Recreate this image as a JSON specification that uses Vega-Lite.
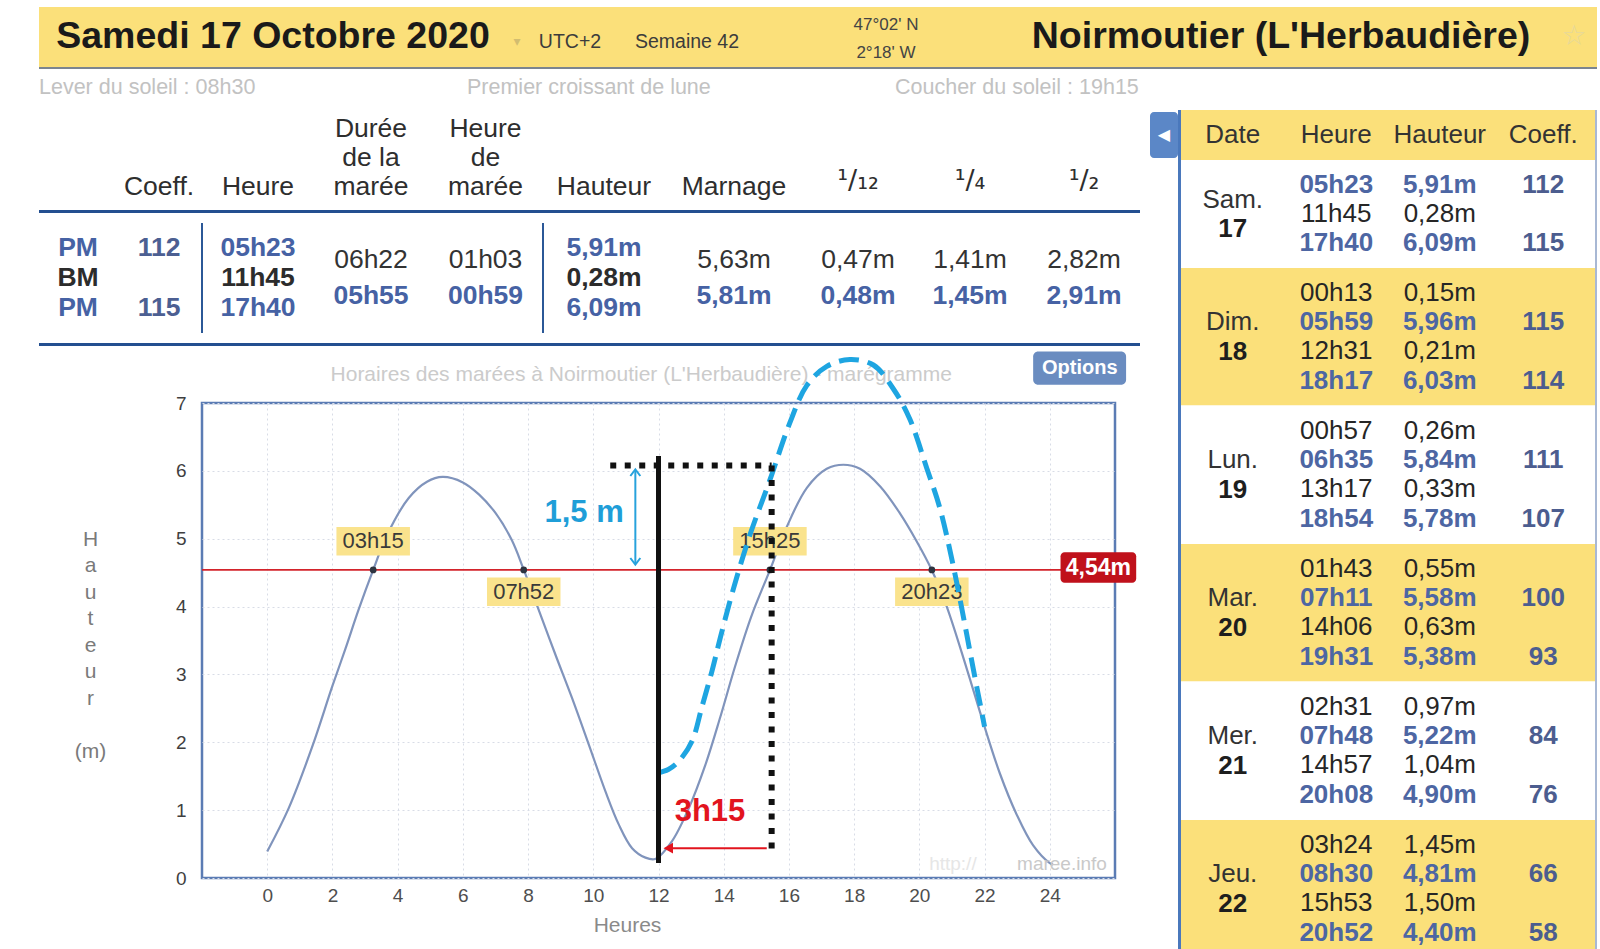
{
"$schema":"https://vega.github.io/schema/vega-lite/v6.json",
"padding":{"left":0,"top":7,"right":0,"bottom":0},
"background":"#ffffff",
"config":{"view":{"stroke":null},"concat":{"spacing":0},"text":{"font":"Liberation Sans"},"axis":{"labelFont":"Liberation Sans","titleFont":"Liberation Sans"},"title":{"font":"Liberation Sans"}},
"datasets":{
"tide":[{"h":0,"m":0.39},{"h":0.66,"m":1.03},{"h":1.37,"m":1.92},{"h":2.0,"m":2.83},{"h":2.4,"m":3.38},{"h":2.8,"m":3.95},{"h":3.25,"m":4.54},{"h":3.67,"m":5.05},{"h":4.34,"m":5.6},{"h":4.9,"m":5.84},{"h":5.38,"m":5.91},{"h":6.0,"m":5.83},{"h":6.5,"m":5.65},{"h":7.0,"m":5.38},{"h":7.5,"m":4.98},{"h":7.87,"m":4.54},{"h":8.32,"m":3.96},{"h":8.84,"m":3.29},{"h":9.35,"m":2.65},{"h":9.86,"m":1.97},{"h":10.37,"m":1.28},{"h":10.78,"m":0.79},{"h":11.19,"m":0.44},{"h":11.6,"m":0.3},{"h":11.9,"m":0.28},{"h":12.41,"m":0.54},{"h":12.93,"m":1.03},{"h":13.44,"m":1.67},{"h":13.9,"m":2.38},{"h":14.35,"m":3.12},{"h":14.85,"m":3.86},{"h":15.42,"m":4.54},{"h":15.93,"m":5.17},{"h":16.55,"m":5.75},{"h":17.16,"m":6.03},{"h":17.67,"m":6.09},{"h":18.18,"m":6.03},{"h":18.8,"m":5.77},{"h":19.41,"m":5.37},{"h":19.92,"m":4.96},{"h":20.38,"m":4.54},{"h":20.84,"m":4.0},{"h":21.45,"m":3.09},{"h":21.96,"m":2.29},{"h":22.47,"m":1.54},{"h":22.98,"m":0.94},{"h":23.49,"m":0.48},{"h":24.0,"m":0.22},{"h":24.1,"m":0.2}],
"dash":[{"h":11.98,"m":1.55},{"h":12.3,"m":1.6},{"h":12.62,"m":1.72},{"h":13.03,"m":2.02},{"h":13.33,"m":2.52},{"h":13.64,"m":3.05},{"h":13.9,"m":3.55},{"h":14.29,"m":4.25},{"h":14.8,"m":5.05},{"h":15.42,"m":5.87},{"h":16.03,"m":6.71},{"h":16.55,"m":7.26},{"h":17.16,"m":7.54},{"h":17.87,"m":7.64},{"h":18.59,"m":7.56},{"h":19.2,"m":7.21},{"h":19.71,"m":6.76},{"h":20.22,"m":6.05},{"h":20.63,"m":5.45},{"h":21.04,"m":4.6},{"h":21.35,"m":3.85},{"h":21.65,"m":3.09},{"h":22.0,"m":2.23}],
"cross":[{"t":"03h15","h":3.25,"side":"above"},{"t":"07h52","h":7.867,"side":"below"},{"t":"15h25","h":15.417,"side":"above"},{"t":"20h23","h":20.383,"side":"below"}],
"summ3":[{"r":1,"type":"PM","coeff":"112","heure":"05h23","haut":"5,91m"},{"r":2,"type":"BM","coeff":"","heure":"11h45","haut":"0,28m"},{"r":3,"type":"PM","coeff":"115","heure":"17h40","haut":"6,09m"}],
"summ2":[{"r":1,"phase":"descente","duree":"06h22","hdm":"01h03","marnage":"5,63m","q12":"0,47m","q4":"1,41m","q2":"2,82m"},{"r":2,"phase":"montée","duree":"05h55","hdm":"00h59","marnage":"5,81m","q12":"0,48m","q4":"1,45m","q2":"2,91m"}],
"tides":[
{"d":"Sam.","n":"17","i":0,"t":"PM","heure":"05h23","haut":"5,91m","c":"112"},
{"d":"Sam.","n":"17","i":1,"t":"BM","heure":"11h45","haut":"0,28m","c":""},
{"d":"Sam.","n":"17","i":2,"t":"PM","heure":"17h40","haut":"6,09m","c":"115"},
{"d":"Dim.","n":"18","i":0,"t":"BM","heure":"00h13","haut":"0,15m","c":""},
{"d":"Dim.","n":"18","i":1,"t":"PM","heure":"05h59","haut":"5,96m","c":"115"},
{"d":"Dim.","n":"18","i":2,"t":"BM","heure":"12h31","haut":"0,21m","c":""},
{"d":"Dim.","n":"18","i":3,"t":"PM","heure":"18h17","haut":"6,03m","c":"114"},
{"d":"Lun.","n":"19","i":0,"t":"BM","heure":"00h57","haut":"0,26m","c":""},
{"d":"Lun.","n":"19","i":1,"t":"PM","heure":"06h35","haut":"5,84m","c":"111"},
{"d":"Lun.","n":"19","i":2,"t":"BM","heure":"13h17","haut":"0,33m","c":""},
{"d":"Lun.","n":"19","i":3,"t":"PM","heure":"18h54","haut":"5,78m","c":"107"},
{"d":"Mar.","n":"20","i":0,"t":"BM","heure":"01h43","haut":"0,55m","c":""},
{"d":"Mar.","n":"20","i":1,"t":"PM","heure":"07h11","haut":"5,58m","c":"100"},
{"d":"Mar.","n":"20","i":2,"t":"BM","heure":"14h06","haut":"0,63m","c":""},
{"d":"Mar.","n":"20","i":3,"t":"PM","heure":"19h31","haut":"5,38m","c":"93"},
{"d":"Mer.","n":"21","i":0,"t":"BM","heure":"02h31","haut":"0,97m","c":""},
{"d":"Mer.","n":"21","i":1,"t":"PM","heure":"07h48","haut":"5,22m","c":"84"},
{"d":"Mer.","n":"21","i":2,"t":"BM","heure":"14h57","haut":"1,04m","c":""},
{"d":"Mer.","n":"21","i":3,"t":"PM","heure":"20h08","haut":"4,90m","c":"76"},
{"d":"Jeu.","n":"22","i":0,"t":"BM","heure":"03h24","haut":"1,45m","c":""},
{"d":"Jeu.","n":"22","i":1,"t":"PM","heure":"08h30","haut":"4,81m","c":"66"},
{"d":"Jeu.","n":"22","i":2,"t":"BM","heure":"15h53","haut":"1,50m","c":""},
{"d":"Jeu.","n":"22","i":3,"t":"PM","heure":"20h52","haut":"4,40m","c":"58"}
]
},
"spacing":0,
"vconcat":[
{"spacing":0,"hconcat":[
 {"width":39,"height":103,"data":{"values":[]},"mark":"point"},
 {"spacing":0,"vconcat":[
  {"spacing":0,"hconcat":[
   {"width":468,"height":60,"view":{"fill":"#fbe07a"},"data":{"values":[{}]},"mark":{"type":"text","text":"Samedi 17 Octobre 2020","fontSize":37.5,"fontWeight":"bold","color":"#1a1a1a"}},
   {"width":20,"height":60,"view":{"fill":"#fbe07a"},"data":{"values":[{}]},"mark":{"type":"text","text":"▾","font":"DejaVu Sans","fontSize":14,"dy":5,"color":"#d2bd70"}},
   {"width":86,"height":60,"view":{"fill":"#fbe07a"},"data":{"values":[{}]},"mark":{"type":"text","text":"UTC+2","fontSize":19.5,"dy":5,"color":"#3c3c3c"}},
   {"width":148,"height":60,"view":{"fill":"#fbe07a"},"data":{"values":[{}]},"mark":{"type":"text","text":"Semaine 42","fontSize":19.5,"dy":5,"color":"#3c3c3c"}},
   {"width":250,"height":60,"view":{"fill":"#fbe07a"},"data":{"values":[{}]},"mark":{"type":"text","text":"47°02' N\n2°18' W","lineBreak":"\n","lineHeight":28.5,"dy":-12.5,"fontSize":17,"color":"#444444"}},
   {"width":540,"height":60,"view":{"fill":"#fbe07a"},"data":{"values":[{}]},"mark":{"type":"text","text":"Noirmoutier (L'Herbaudière)","fontSize":37.5,"fontWeight":"bold","color":"#1a1a1a"}},
   {"width":46,"height":60,"view":{"fill":"#fbe07a"},"data":{"values":[{}]},"mark":{"type":"text","text":"☆","font":"DejaVu Sans","fontSize":28,"color":"#e6d89a"}}
  ]},
  {"width":1558,"height":2,"view":{"fill":"#7b858f"},"data":{"values":[]},"mark":"point"},
  {"width":1284,"height":41,"data":{"values":[{"k":"a","t":"Lever du soleil : 08h30"},{"k":"b","t":"Premier croissant de lune"},{"k":"c","t":"Coucher du soleil : 19h15"}]},"mark":{"type":"text","align":"left","fontSize":21.5,"dy":-2,"color":"#c2c2c2"},"encoding":{"x":{"field":"k","type":"nominal","bandPosition":0,"scale":{"type":"band","paddingInner":0,"paddingOuter":0},"axis":null},"text":{"field":"t"}}}
 ]}
]},
{"spacing":0,"hconcat":[
 {"width":39,"height":1,"data":{"values":[]},"mark":"point"},
 {"spacing":0,"vconcat":[
  {"spacing":0,"vconcat":[
   {"spacing":0,"hconcat":[
    {"width":78,"height":90,"data":{"values":[]},"mark":"point"},
    {"width":84,"height":90,"data":{"values":[{"l":3,"t":"Coeff."}]},"mark":{"type":"text","fontSize":26.5,"dy":3,"color":"#2e2e2e"},"encoding":{"y":{"field":"l","type":"ordinal","scale":{"type":"point","padding":0.536,"domain":[1,2,3]},"axis":null},"text":{"field":"t"}}},
    {"width":2,"height":90,"data":{"values":[]},"mark":"point"},
    {"width":110,"height":90,"data":{"values":[{"l":3,"t":"Heure"}]},"mark":{"type":"text","fontSize":26.5,"dy":3,"color":"#2e2e2e"},"encoding":{"y":{"field":"l","type":"ordinal","scale":{"type":"point","padding":0.536,"domain":[1,2,3]},"axis":null},"text":{"field":"t"}}},
    {"width":116,"height":90,"data":{"values":[{"l":1,"t":"Durée"},{"l":2,"t":"de la"},{"l":3,"t":"marée"}]},"mark":{"type":"text","fontSize":26.5,"dy":3,"color":"#2e2e2e"},"encoding":{"y":{"field":"l","type":"ordinal","scale":{"type":"point","padding":0.536,"domain":[1,2,3]},"axis":null},"text":{"field":"t"}}},
    {"width":113,"height":90,"data":{"values":[{"l":1,"t":"Heure"},{"l":2,"t":"de"},{"l":3,"t":"marée"}]},"mark":{"type":"text","fontSize":26.5,"dy":3,"color":"#2e2e2e"},"encoding":{"y":{"field":"l","type":"ordinal","scale":{"type":"point","padding":0.536,"domain":[1,2,3]},"axis":null},"text":{"field":"t"}}},
    {"width":2,"height":90,"data":{"values":[]},"mark":"point"},
    {"width":120,"height":90,"data":{"values":[{"l":3,"t":"Hauteur"}]},"mark":{"type":"text","fontSize":26.5,"dy":3,"color":"#2e2e2e"},"encoding":{"y":{"field":"l","type":"ordinal","scale":{"type":"point","padding":0.536,"domain":[1,2,3]},"axis":null},"text":{"field":"t"}}},
    {"width":140,"height":90,"data":{"values":[{"l":3,"t":"Marnage"}]},"mark":{"type":"text","fontSize":26.5,"dy":3,"color":"#2e2e2e"},"encoding":{"y":{"field":"l","type":"ordinal","scale":{"type":"point","padding":0.536,"domain":[1,2,3]},"axis":null},"text":{"field":"t"}}},
    {"width":108,"height":90,"data":{"values":[{"l":3,"t":"¹/₁₂"}]},"mark":{"type":"text","font":"DejaVu Sans","fontSize":27,"dy":-3,"color":"#2e2e2e"},"encoding":{"y":{"field":"l","type":"ordinal","scale":{"type":"point","padding":0.536,"domain":[1,2,3]},"axis":null},"text":{"field":"t"}}},
    {"width":116,"height":90,"data":{"values":[{"l":3,"t":"¹/₄"}]},"mark":{"type":"text","font":"DejaVu Sans","fontSize":27,"dy":-3,"color":"#2e2e2e"},"encoding":{"y":{"field":"l","type":"ordinal","scale":{"type":"point","padding":0.536,"domain":[1,2,3]},"axis":null},"text":{"field":"t"}}},
    {"width":112,"height":90,"data":{"values":[{"l":3,"t":"¹/₂"}]},"mark":{"type":"text","font":"DejaVu Sans","fontSize":27,"dy":-3,"color":"#2e2e2e"},"encoding":{"y":{"field":"l","type":"ordinal","scale":{"type":"point","padding":0.536,"domain":[1,2,3]},"axis":null},"text":{"field":"t"}}}
   ]},
   {"width":1101,"height":9,"data":{"values":[]},"mark":"point"},
   {"width":1101,"height":3,"view":{"fill":"#234f90"},"data":{"values":[]},"mark":"point"},
   {"width":1101,"height":10,"data":{"values":[]},"mark":"point"},
   {"spacing":0,"hconcat":[
    {"width":78,"height":110,"data":{"name":"summ3"},"mark":{"type":"text","fontSize":26.5,"fontWeight":"bold"},"encoding":{"y":{"field":"r","type":"ordinal","scale":{"type":"point","padding":0.864,"domain":[1,2,3]},"axis":null},"text":{"field":"type"},"color":{"field":"type","type":"nominal","scale":{"domain":["PM","BM"],"range":["#4662a4","#2c2c2c"]},"legend":null}}},
    {"width":84,"height":110,"data":{"name":"summ3"},"mark":{"type":"text","fontSize":26.5,"fontWeight":"bold","color":"#4c5f92"},"encoding":{"y":{"field":"r","type":"ordinal","scale":{"type":"point","padding":0.864,"domain":[1,2,3]},"axis":null},"text":{"field":"coeff"}}},
    {"width":2,"height":110,"view":{"fill":"#2b5897"},"data":{"values":[]},"mark":"point"},
    {"width":110,"height":110,"data":{"name":"summ3"},"mark":{"type":"text","fontSize":26.5,"fontWeight":"bold"},"encoding":{"y":{"field":"r","type":"ordinal","scale":{"type":"point","padding":0.864,"domain":[1,2,3]},"axis":null},"text":{"field":"heure"},"color":{"field":"type","type":"nominal","scale":{"domain":["PM","BM"],"range":["#4662a4","#2c2c2c"]},"legend":null}}},
    {"width":116,"height":110,"data":{"name":"summ2"},"layer":[
     {"transform":[{"filter":"datum.phase == 'descente'"}],"mark":{"type":"text","fontSize":26.5,"color":"#333333"},"encoding":{"y":{"field":"r","type":"ordinal","scale":{"type":"point","padding":1.333,"domain":[1,2]},"axis":null},"text":{"field":"duree"}}},
     {"transform":[{"filter":"datum.phase == 'montée'"}],"mark":{"type":"text","fontSize":26.5,"fontWeight":"bold","color":"#4662a4"},"encoding":{"y":{"field":"r","type":"ordinal","axis":null},"text":{"field":"duree"}}}
    ]},
    {"width":113,"height":110,"data":{"name":"summ2"},"layer":[
     {"transform":[{"filter":"datum.phase == 'descente'"}],"mark":{"type":"text","fontSize":26.5,"color":"#333333"},"encoding":{"y":{"field":"r","type":"ordinal","scale":{"type":"point","padding":1.333,"domain":[1,2]},"axis":null},"text":{"field":"hdm"}}},
     {"transform":[{"filter":"datum.phase == 'montée'"}],"mark":{"type":"text","fontSize":26.5,"fontWeight":"bold","color":"#4662a4"},"encoding":{"y":{"field":"r","type":"ordinal","axis":null},"text":{"field":"hdm"}}}
    ]},
    {"width":2,"height":110,"view":{"fill":"#2b5897"},"data":{"values":[]},"mark":"point"},
    {"width":120,"height":110,"data":{"name":"summ3"},"mark":{"type":"text","fontSize":26.5,"fontWeight":"bold"},"encoding":{"y":{"field":"r","type":"ordinal","scale":{"type":"point","padding":0.864,"domain":[1,2,3]},"axis":null},"text":{"field":"haut"},"color":{"field":"type","type":"nominal","scale":{"domain":["PM","BM"],"range":["#4662a4","#2c2c2c"]},"legend":null}}},
    {"width":140,"height":110,"data":{"name":"summ2"},"layer":[
     {"transform":[{"filter":"datum.phase == 'descente'"}],"mark":{"type":"text","fontSize":26.5,"color":"#333333"},"encoding":{"y":{"field":"r","type":"ordinal","scale":{"type":"point","padding":1.333,"domain":[1,2]},"axis":null},"text":{"field":"marnage"}}},
     {"transform":[{"filter":"datum.phase == 'montée'"}],"mark":{"type":"text","fontSize":26.5,"fontWeight":"bold","color":"#4662a4"},"encoding":{"y":{"field":"r","type":"ordinal","axis":null},"text":{"field":"marnage"}}}
    ]},
    {"width":108,"height":110,"data":{"name":"summ2"},"layer":[
     {"transform":[{"filter":"datum.phase == 'descente'"}],"mark":{"type":"text","fontSize":26.5,"color":"#333333"},"encoding":{"y":{"field":"r","type":"ordinal","scale":{"type":"point","padding":1.333,"domain":[1,2]},"axis":null},"text":{"field":"q12"}}},
     {"transform":[{"filter":"datum.phase == 'montée'"}],"mark":{"type":"text","fontSize":26.5,"fontWeight":"bold","color":"#4662a4"},"encoding":{"y":{"field":"r","type":"ordinal","axis":null},"text":{"field":"q12"}}}
    ]},
    {"width":116,"height":110,"data":{"name":"summ2"},"layer":[
     {"transform":[{"filter":"datum.phase == 'descente'"}],"mark":{"type":"text","fontSize":26.5,"color":"#333333"},"encoding":{"y":{"field":"r","type":"ordinal","scale":{"type":"point","padding":1.333,"domain":[1,2]},"axis":null},"text":{"field":"q4"}}},
     {"transform":[{"filter":"datum.phase == 'montée'"}],"mark":{"type":"text","fontSize":26.5,"fontWeight":"bold","color":"#4662a4"},"encoding":{"y":{"field":"r","type":"ordinal","axis":null},"text":{"field":"q4"}}}
    ]},
    {"width":112,"height":110,"data":{"name":"summ2"},"layer":[
     {"transform":[{"filter":"datum.phase == 'descente'"}],"mark":{"type":"text","fontSize":26.5,"color":"#333333"},"encoding":{"y":{"field":"r","type":"ordinal","scale":{"type":"point","padding":1.333,"domain":[1,2]},"axis":null},"text":{"field":"q2"}}},
     {"transform":[{"filter":"datum.phase == 'montée'"}],"mark":{"type":"text","fontSize":26.5,"fontWeight":"bold","color":"#4662a4"},"encoding":{"y":{"field":"r","type":"ordinal","axis":null},"text":{"field":"q2"}}}
    ]}
   ]},
   {"width":1101,"height":10,"data":{"values":[]},"mark":"point"},
   {"width":1101,"height":3,"view":{"fill":"#234f90"},"data":{"values":[]},"mark":"point"},
   {"width":1101,"height":2,"data":{"values":[]},"mark":"point"}
  ]},
  {"bounds":"flush","spacing":0,"hconcat":[
   {"width":163,"height":475,"data":{"values":[]},"mark":"point"},
   {"width":913,"height":475,
    "view":{"stroke":"#5b7cb4","strokeWidth":2.5,"fill":"#ffffff"},
    "layer":[
     {"data":{"name":"tide"},"mark":{"type":"line","interpolate":"catmull-rom","color":"#8094bc","strokeWidth":2.2},
      "encoding":{
       "x":{"field":"h","type":"quantitative","scale":{"domain":[-2,26],"nice":false,"zero":false},
        "axis":{"values":[0,2,4,6,8,10,12,14,16,18,20,22,24],"format":"d","title":"Heures","grid":true,"gridColor":"#d8dce6","gridDash":[2,3],"domain":false,"ticks":false,"labelPadding":8,"labelFontSize":19,"labelColor":"#4e4e4e","labelFlush":false,"titleFontSize":21,"titleFontWeight":"normal","titleColor":"#8a8a8a","titlePadding":9,"titleX":425}},
       "y":{"field":"m","type":"quantitative","scale":{"domain":[0,7],"nice":false,"zero":false},
        "axis":{"values":[0,1,2,3,4,5,6,7],"format":"d","title":["H","a","u","t","e","u","r","\u200b","(m)"],"grid":true,"gridColor":"#d8dce6","gridDash":[2,3],"domain":false,"ticks":false,"labelPadding":16,"labelFontSize":19,"labelColor":"#3f3f3f","titleAngle":0,"titleAlign":"center","titleBaseline":"middle","titleX":-112,"titleY":136,"titleLineHeight":26.5,"titleFontSize":21,"titleFontWeight":"normal","titleColor":"#7a7a7a"}}}},
     {"data":{"values":[{}]},"mark":{"type":"text","text":"Horaires des marées à Noirmoutier (L'Herbaudière) - marégramme","fontSize":21,"color":"#cbcbcb"},"encoding":{"x":{"datum":11.47},"y":{"datum":7.42}}},
     {"data":{"values":[{}]},"mark":{"type":"rule","color":"#d3232b","strokeWidth":1.8},"encoding":{"y":{"datum":4.54}}},
     {"data":{"name":"cross"},"transform":[{"filter":"datum.side=='above'"}],"mark":{"type":"point","shape":"M-3.675,-4.29L3.675,-4.29L3.675,-1.44L-3.675,-1.44Z","size":400,"filled":true,"fill":"#fae38d","opacity":1,"strokeWidth":0},"encoding":{"x":{"field":"h","type":"quantitative"},"y":{"datum":4.54}}},
     {"data":{"name":"cross"},"transform":[{"filter":"datum.side=='below'"}],"mark":{"type":"point","shape":"M-3.675,0.76L3.675,0.76L3.675,3.61L-3.675,3.61Z","size":400,"filled":true,"fill":"#fae38d","opacity":1,"strokeWidth":0},"encoding":{"x":{"field":"h","type":"quantitative"},"y":{"datum":4.54}}},
     {"data":{"name":"cross"},"transform":[{"filter":"datum.side=='above'"}],"mark":{"type":"text","dy":-28.6,"fontSize":22,"color":"#3a3a3a"},"encoding":{"x":{"field":"h","type":"quantitative"},"y":{"datum":4.54},"text":{"field":"t"}}},
     {"data":{"name":"cross"},"transform":[{"filter":"datum.side=='below'"}],"mark":{"type":"text","dy":21.8,"fontSize":22,"color":"#3a3a3a"},"encoding":{"x":{"field":"h","type":"quantitative"},"y":{"datum":4.54},"text":{"field":"t"}}},
     {"data":{"name":"cross"},"mark":{"type":"point","filled":true,"size":45,"color":"#2e3440","opacity":1},"encoding":{"x":{"field":"h","type":"quantitative"},"y":{"datum":4.54}}},
     {"data":{"values":[{}]},"mark":{"type":"rect","color":"#c0111b","cornerRadius":4},"encoding":{"x":{"datum":24.33},"x2":{"datum":26.65},"y":{"datum":4.35},"y2":{"datum":4.8}}},
     {"data":{"values":[{}]},"mark":{"type":"text","text":"4,54m","color":"#ffffff","fontSize":23,"fontWeight":"bold"},"encoding":{"x":{"datum":25.49},"y":{"datum":4.575}}},
     {"data":{"values":[{}]},"mark":{"type":"rect","color":"#6a8cc0","cornerRadius":5},"encoding":{"x":{"datum":23.49},"x2":{"datum":26.34},"y":{"datum":7.27},"y2":{"datum":7.76}}},
     {"data":{"values":[{}]},"mark":{"type":"text","text":"Options","color":"#ffffff","fontSize":20,"fontWeight":"bold"},"encoding":{"x":{"datum":24.92},"y":{"datum":7.515}}},
     {"data":{"values":[{}]},"mark":{"type":"text","text":"1,5 m","color":"#1f9ed8","fontSize":31,"fontWeight":"bold"},"encoding":{"x":{"datum":9.72},"y":{"datum":5.38}}},
     {"data":{"values":[{}]},"mark":{"type":"rule","color":"#27a2dc","strokeWidth":2},"encoding":{"x":{"datum":11.29},"y":{"datum":4.64},"y2":{"datum":6.0}}},
     {"data":{"values":[{}]},"mark":{"type":"point","shape":"M-1,1.3L0,0L1,1.3","size":100,"filled":false,"color":"#27a2dc","strokeWidth":2,"opacity":1},"encoding":{"x":{"datum":11.29},"y":{"datum":6.02}}},
     {"data":{"values":[{}]},"mark":{"type":"point","shape":"M-1,-1.3L0,0L1,-1.3","size":100,"filled":false,"color":"#27a2dc","strokeWidth":2,"opacity":1},"encoding":{"x":{"datum":11.29},"y":{"datum":4.62}}},
     {"data":{"name":"dash"},"mark":{"type":"line","interpolate":"catmull-rom","color":"#1ea5e1","strokeWidth":5,"strokeDash":[20,9]},"encoding":{"x":{"field":"h","type":"quantitative"},"y":{"field":"m","type":"quantitative"}}},
     {"data":{"values":[{}]},"mark":{"type":"rule","color":"#111111","strokeWidth":6,"strokeDash":[6,8.5]},"encoding":{"x":{"datum":10.52},"x2":{"datum":15.47},"y":{"datum":6.08}}},
     {"data":{"values":[{}]},"mark":{"type":"rule","color":"#111111","strokeWidth":6,"strokeDash":[6,8.5]},"encoding":{"x":{"datum":15.47},"y":{"datum":6.08},"y2":{"datum":0.31}}},
     {"data":{"values":[{}]},"mark":{"type":"rule","color":"#111111","strokeWidth":5},"encoding":{"x":{"datum":12},"y":{"datum":0.22},"y2":{"datum":6.22}}},
     {"data":{"values":[{}]},"mark":{"type":"rule","color":"#e2141e","strokeWidth":2},"encoding":{"x":{"datum":12.3},"x2":{"datum":15.32},"y":{"datum":0.44}}},
     {"data":{"values":[{}]},"mark":{"type":"point","shape":"triangle-left","size":120,"filled":true,"color":"#e2141e","opacity":1},"encoding":{"x":{"datum":12.3},"y":{"datum":0.44}}},
     {"data":{"values":[{}]},"mark":{"type":"text","text":"3h15","color":"#e2141e","fontSize":31,"fontWeight":"bold"},"encoding":{"x":{"datum":13.58},"y":{"datum":0.98}}},
     {"data":{"values":[{}]},"mark":{"type":"text","text":"http://","align":"left","color":"#e6e6e6","fontSize":19},"encoding":{"x":{"datum":20.3},"y":{"datum":0.21}}},
     {"data":{"values":[{}]},"mark":{"type":"text","text":"maree.info","align":"right","color":"#c9c9c9","fontSize":19},"encoding":{"x":{"datum":25.75},"y":{"datum":0.21}}}
    ]}
  ]}
 ]},
 {"width":10,"height":1,"data":{"values":[]},"mark":"point"},
 {"spacing":0,"vconcat":[
  {"width":28,"height":2,"data":{"values":[]},"mark":"point"},
  {"width":28,"height":46,"view":{"fill":"#5b87c7","cornerRadius":4},"data":{"values":[{}]},"mark":{"type":"text","text":"◀","font":"DejaVu Sans","fontSize":16,"color":"#ffffff"}}
 ]},
 {"width":3,"height":844,"view":{"fill":"#4a78bc"},"data":{"values":[]},"mark":"point"},
 {"spacing":0,"vconcat":[
  {"width":414,"height":50,"view":{"fill":"#fbe07a"},"data":{"values":[{"c":"Date"},{"c":"Heure"},{"c":"Hauteur"},{"c":"Coeff."}]},"mark":{"type":"text","fontSize":26,"color":"#333333"},"encoding":{"x":{"field":"c","type":"nominal","scale":{"type":"band","domain":["Date","Heure","Hauteur","Coeff."],"paddingInner":0,"paddingOuter":0},"axis":null},"text":{"field":"c"}}},
  {"width":414,"height":108,"view":{"fill":"#ffffff"},"data":{"name":"tides"},"transform":[{"filter":"datum.d=='Sam.'"}],"layer":[
   {"transform":[{"filter":"datum.t=='PM'"}],"mark":{"type":"text","fontSize":26,"fontWeight":"bold","color":"#4d66a3"},"encoding":{"x":{"datum":"Heure","type":"nominal","scale":{"type":"band","domain":["Date","Heure","Hauteur","Coeff."],"paddingInner":0,"paddingOuter":0},"axis":null},"y":{"field":"i","type":"ordinal","scale":{"type":"point","padding":0.84,"domain":[0,1,2]},"axis":null},"text":{"field":"heure"}}},
   {"transform":[{"filter":"datum.t=='BM'"}],"mark":{"type":"text","fontSize":26,"color":"#262626"},"encoding":{"x":{"datum":"Heure","type":"nominal","axis":null},"y":{"field":"i","type":"ordinal","axis":null},"text":{"field":"heure"}}},
   {"transform":[{"filter":"datum.t=='PM'"}],"mark":{"type":"text","fontSize":26,"fontWeight":"bold","color":"#4d66a3"},"encoding":{"x":{"datum":"Hauteur","type":"nominal","axis":null},"y":{"field":"i","type":"ordinal","axis":null},"text":{"field":"haut"}}},
   {"transform":[{"filter":"datum.t=='BM'"}],"mark":{"type":"text","fontSize":26,"color":"#262626"},"encoding":{"x":{"datum":"Hauteur","type":"nominal","axis":null},"y":{"field":"i","type":"ordinal","axis":null},"text":{"field":"haut"}}},
   {"transform":[{"filter":"datum.t=='PM'"}],"mark":{"type":"text","fontSize":26,"fontWeight":"bold","color":"#4c5d8f"},"encoding":{"x":{"datum":"Coeff.","type":"nominal","axis":null},"y":{"field":"i","type":"ordinal","axis":null},"text":{"field":"c"}}},
   {"transform":[{"filter":"datum.i==0"}],"mark":{"type":"text","fontSize":26,"dy":-14.5,"color":"#333333"},"encoding":{"x":{"datum":"Date","type":"nominal","axis":null},"text":{"field":"d"}}},
   {"transform":[{"filter":"datum.i==0"}],"mark":{"type":"text","fontSize":26,"fontWeight":"bold","dy":15,"color":"#1e1e1e"},"encoding":{"x":{"datum":"Date","type":"nominal","axis":null},"text":{"field":"n"}}}
  ]},
  {"width":414,"height":137.3,"view":{"fill":"#fbe07a"},"data":{"name":"tides"},"transform":[{"filter":"datum.d=='Dim.'"}],"layer":[
   {"transform":[{"filter":"datum.t=='PM'"}],"mark":{"type":"text","fontSize":26,"fontWeight":"bold","color":"#4d66a3"},"encoding":{"x":{"datum":"Heure","type":"nominal","scale":{"type":"band","domain":["Date","Heure","Hauteur","Coeff."],"paddingInner":0,"paddingOuter":0},"axis":null},"y":{"field":"i","type":"ordinal","scale":{"type":"point","padding":0.84,"domain":[0,1,2,3]},"axis":null},"text":{"field":"heure"}}},
   {"transform":[{"filter":"datum.t=='BM'"}],"mark":{"type":"text","fontSize":26,"color":"#262626"},"encoding":{"x":{"datum":"Heure","type":"nominal","axis":null},"y":{"field":"i","type":"ordinal","axis":null},"text":{"field":"heure"}}},
   {"transform":[{"filter":"datum.t=='PM'"}],"mark":{"type":"text","fontSize":26,"fontWeight":"bold","color":"#4d66a3"},"encoding":{"x":{"datum":"Hauteur","type":"nominal","axis":null},"y":{"field":"i","type":"ordinal","axis":null},"text":{"field":"haut"}}},
   {"transform":[{"filter":"datum.t=='BM'"}],"mark":{"type":"text","fontSize":26,"color":"#262626"},"encoding":{"x":{"datum":"Hauteur","type":"nominal","axis":null},"y":{"field":"i","type":"ordinal","axis":null},"text":{"field":"haut"}}},
   {"transform":[{"filter":"datum.t=='PM'"}],"mark":{"type":"text","fontSize":26,"fontWeight":"bold","color":"#4c5d8f"},"encoding":{"x":{"datum":"Coeff.","type":"nominal","axis":null},"y":{"field":"i","type":"ordinal","axis":null},"text":{"field":"c"}}},
   {"transform":[{"filter":"datum.i==0"}],"mark":{"type":"text","fontSize":26,"dy":-14.5,"color":"#333333"},"encoding":{"x":{"datum":"Date","type":"nominal","axis":null},"text":{"field":"d"}}},
   {"transform":[{"filter":"datum.i==0"}],"mark":{"type":"text","fontSize":26,"fontWeight":"bold","dy":15,"color":"#1e1e1e"},"encoding":{"x":{"datum":"Date","type":"nominal","axis":null},"text":{"field":"n"}}}
  ]},
  {"width":414,"height":137.3,"view":{"fill":"#ffffff"},"data":{"name":"tides"},"transform":[{"filter":"datum.d=='Lun.'"}],"layer":[
   {"transform":[{"filter":"datum.t=='PM'"}],"mark":{"type":"text","fontSize":26,"fontWeight":"bold","color":"#4d66a3"},"encoding":{"x":{"datum":"Heure","type":"nominal","scale":{"type":"band","domain":["Date","Heure","Hauteur","Coeff."],"paddingInner":0,"paddingOuter":0},"axis":null},"y":{"field":"i","type":"ordinal","scale":{"type":"point","padding":0.84,"domain":[0,1,2,3]},"axis":null},"text":{"field":"heure"}}},
   {"transform":[{"filter":"datum.t=='BM'"}],"mark":{"type":"text","fontSize":26,"color":"#262626"},"encoding":{"x":{"datum":"Heure","type":"nominal","axis":null},"y":{"field":"i","type":"ordinal","axis":null},"text":{"field":"heure"}}},
   {"transform":[{"filter":"datum.t=='PM'"}],"mark":{"type":"text","fontSize":26,"fontWeight":"bold","color":"#4d66a3"},"encoding":{"x":{"datum":"Hauteur","type":"nominal","axis":null},"y":{"field":"i","type":"ordinal","axis":null},"text":{"field":"haut"}}},
   {"transform":[{"filter":"datum.t=='BM'"}],"mark":{"type":"text","fontSize":26,"color":"#262626"},"encoding":{"x":{"datum":"Hauteur","type":"nominal","axis":null},"y":{"field":"i","type":"ordinal","axis":null},"text":{"field":"haut"}}},
   {"transform":[{"filter":"datum.t=='PM'"}],"mark":{"type":"text","fontSize":26,"fontWeight":"bold","color":"#4c5d8f"},"encoding":{"x":{"datum":"Coeff.","type":"nominal","axis":null},"y":{"field":"i","type":"ordinal","axis":null},"text":{"field":"c"}}},
   {"transform":[{"filter":"datum.i==0"}],"mark":{"type":"text","fontSize":26,"dy":-14.5,"color":"#333333"},"encoding":{"x":{"datum":"Date","type":"nominal","axis":null},"text":{"field":"d"}}},
   {"transform":[{"filter":"datum.i==0"}],"mark":{"type":"text","fontSize":26,"fontWeight":"bold","dy":15,"color":"#1e1e1e"},"encoding":{"x":{"datum":"Date","type":"nominal","axis":null},"text":{"field":"n"}}}
  ]},
  {"width":414,"height":137.3,"view":{"fill":"#fbe07a"},"data":{"name":"tides"},"transform":[{"filter":"datum.d=='Mar.'"}],"layer":[
   {"transform":[{"filter":"datum.t=='PM'"}],"mark":{"type":"text","fontSize":26,"fontWeight":"bold","color":"#4d66a3"},"encoding":{"x":{"datum":"Heure","type":"nominal","scale":{"type":"band","domain":["Date","Heure","Hauteur","Coeff."],"paddingInner":0,"paddingOuter":0},"axis":null},"y":{"field":"i","type":"ordinal","scale":{"type":"point","padding":0.84,"domain":[0,1,2,3]},"axis":null},"text":{"field":"heure"}}},
   {"transform":[{"filter":"datum.t=='BM'"}],"mark":{"type":"text","fontSize":26,"color":"#262626"},"encoding":{"x":{"datum":"Heure","type":"nominal","axis":null},"y":{"field":"i","type":"ordinal","axis":null},"text":{"field":"heure"}}},
   {"transform":[{"filter":"datum.t=='PM'"}],"mark":{"type":"text","fontSize":26,"fontWeight":"bold","color":"#4d66a3"},"encoding":{"x":{"datum":"Hauteur","type":"nominal","axis":null},"y":{"field":"i","type":"ordinal","axis":null},"text":{"field":"haut"}}},
   {"transform":[{"filter":"datum.t=='BM'"}],"mark":{"type":"text","fontSize":26,"color":"#262626"},"encoding":{"x":{"datum":"Hauteur","type":"nominal","axis":null},"y":{"field":"i","type":"ordinal","axis":null},"text":{"field":"haut"}}},
   {"transform":[{"filter":"datum.t=='PM'"}],"mark":{"type":"text","fontSize":26,"fontWeight":"bold","color":"#4c5d8f"},"encoding":{"x":{"datum":"Coeff.","type":"nominal","axis":null},"y":{"field":"i","type":"ordinal","axis":null},"text":{"field":"c"}}},
   {"transform":[{"filter":"datum.i==0"}],"mark":{"type":"text","fontSize":26,"dy":-14.5,"color":"#333333"},"encoding":{"x":{"datum":"Date","type":"nominal","axis":null},"text":{"field":"d"}}},
   {"transform":[{"filter":"datum.i==0"}],"mark":{"type":"text","fontSize":26,"fontWeight":"bold","dy":15,"color":"#1e1e1e"},"encoding":{"x":{"datum":"Date","type":"nominal","axis":null},"text":{"field":"n"}}}
  ]},
  {"width":414,"height":137.3,"view":{"fill":"#ffffff"},"data":{"name":"tides"},"transform":[{"filter":"datum.d=='Mer.'"}],"layer":[
   {"transform":[{"filter":"datum.t=='PM'"}],"mark":{"type":"text","fontSize":26,"fontWeight":"bold","color":"#4d66a3"},"encoding":{"x":{"datum":"Heure","type":"nominal","scale":{"type":"band","domain":["Date","Heure","Hauteur","Coeff."],"paddingInner":0,"paddingOuter":0},"axis":null},"y":{"field":"i","type":"ordinal","scale":{"type":"point","padding":0.84,"domain":[0,1,2,3]},"axis":null},"text":{"field":"heure"}}},
   {"transform":[{"filter":"datum.t=='BM'"}],"mark":{"type":"text","fontSize":26,"color":"#262626"},"encoding":{"x":{"datum":"Heure","type":"nominal","axis":null},"y":{"field":"i","type":"ordinal","axis":null},"text":{"field":"heure"}}},
   {"transform":[{"filter":"datum.t=='PM'"}],"mark":{"type":"text","fontSize":26,"fontWeight":"bold","color":"#4d66a3"},"encoding":{"x":{"datum":"Hauteur","type":"nominal","axis":null},"y":{"field":"i","type":"ordinal","axis":null},"text":{"field":"haut"}}},
   {"transform":[{"filter":"datum.t=='BM'"}],"mark":{"type":"text","fontSize":26,"color":"#262626"},"encoding":{"x":{"datum":"Hauteur","type":"nominal","axis":null},"y":{"field":"i","type":"ordinal","axis":null},"text":{"field":"haut"}}},
   {"transform":[{"filter":"datum.t=='PM'"}],"mark":{"type":"text","fontSize":26,"fontWeight":"bold","color":"#4c5d8f"},"encoding":{"x":{"datum":"Coeff.","type":"nominal","axis":null},"y":{"field":"i","type":"ordinal","axis":null},"text":{"field":"c"}}},
   {"transform":[{"filter":"datum.i==0"}],"mark":{"type":"text","fontSize":26,"dy":-14.5,"color":"#333333"},"encoding":{"x":{"datum":"Date","type":"nominal","axis":null},"text":{"field":"d"}}},
   {"transform":[{"filter":"datum.i==0"}],"mark":{"type":"text","fontSize":26,"fontWeight":"bold","dy":15,"color":"#1e1e1e"},"encoding":{"x":{"datum":"Date","type":"nominal","axis":null},"text":{"field":"n"}}}
  ]},
  {"width":414,"height":137.3,"view":{"fill":"#fbe07a"},"data":{"name":"tides"},"transform":[{"filter":"datum.d=='Jeu.'"}],"layer":[
   {"transform":[{"filter":"datum.t=='PM'"}],"mark":{"type":"text","fontSize":26,"fontWeight":"bold","color":"#4d66a3"},"encoding":{"x":{"datum":"Heure","type":"nominal","scale":{"type":"band","domain":["Date","Heure","Hauteur","Coeff."],"paddingInner":0,"paddingOuter":0},"axis":null},"y":{"field":"i","type":"ordinal","scale":{"type":"point","padding":0.84,"domain":[0,1,2,3]},"axis":null},"text":{"field":"heure"}}},
   {"transform":[{"filter":"datum.t=='BM'"}],"mark":{"type":"text","fontSize":26,"color":"#262626"},"encoding":{"x":{"datum":"Heure","type":"nominal","axis":null},"y":{"field":"i","type":"ordinal","axis":null},"text":{"field":"heure"}}},
   {"transform":[{"filter":"datum.t=='PM'"}],"mark":{"type":"text","fontSize":26,"fontWeight":"bold","color":"#4d66a3"},"encoding":{"x":{"datum":"Hauteur","type":"nominal","axis":null},"y":{"field":"i","type":"ordinal","axis":null},"text":{"field":"haut"}}},
   {"transform":[{"filter":"datum.t=='BM'"}],"mark":{"type":"text","fontSize":26,"color":"#262626"},"encoding":{"x":{"datum":"Hauteur","type":"nominal","axis":null},"y":{"field":"i","type":"ordinal","axis":null},"text":{"field":"haut"}}},
   {"transform":[{"filter":"datum.t=='PM'"}],"mark":{"type":"text","fontSize":26,"fontWeight":"bold","color":"#4c5d8f"},"encoding":{"x":{"datum":"Coeff.","type":"nominal","axis":null},"y":{"field":"i","type":"ordinal","axis":null},"text":{"field":"c"}}},
   {"transform":[{"filter":"datum.i==0"}],"mark":{"type":"text","fontSize":26,"dy":-14.5,"color":"#333333"},"encoding":{"x":{"datum":"Date","type":"nominal","axis":null},"text":{"field":"d"}}},
   {"transform":[{"filter":"datum.i==0"}],"mark":{"type":"text","fontSize":26,"fontWeight":"bold","dy":15,"color":"#1e1e1e"},"encoding":{"x":{"datum":"Date","type":"nominal","axis":null},"text":{"field":"n"}}}
  ]}
 ]},
 {"width":2,"height":844,"view":{"fill":"#a8b8d4"},"data":{"values":[]},"mark":"point"}
]}
]
}
